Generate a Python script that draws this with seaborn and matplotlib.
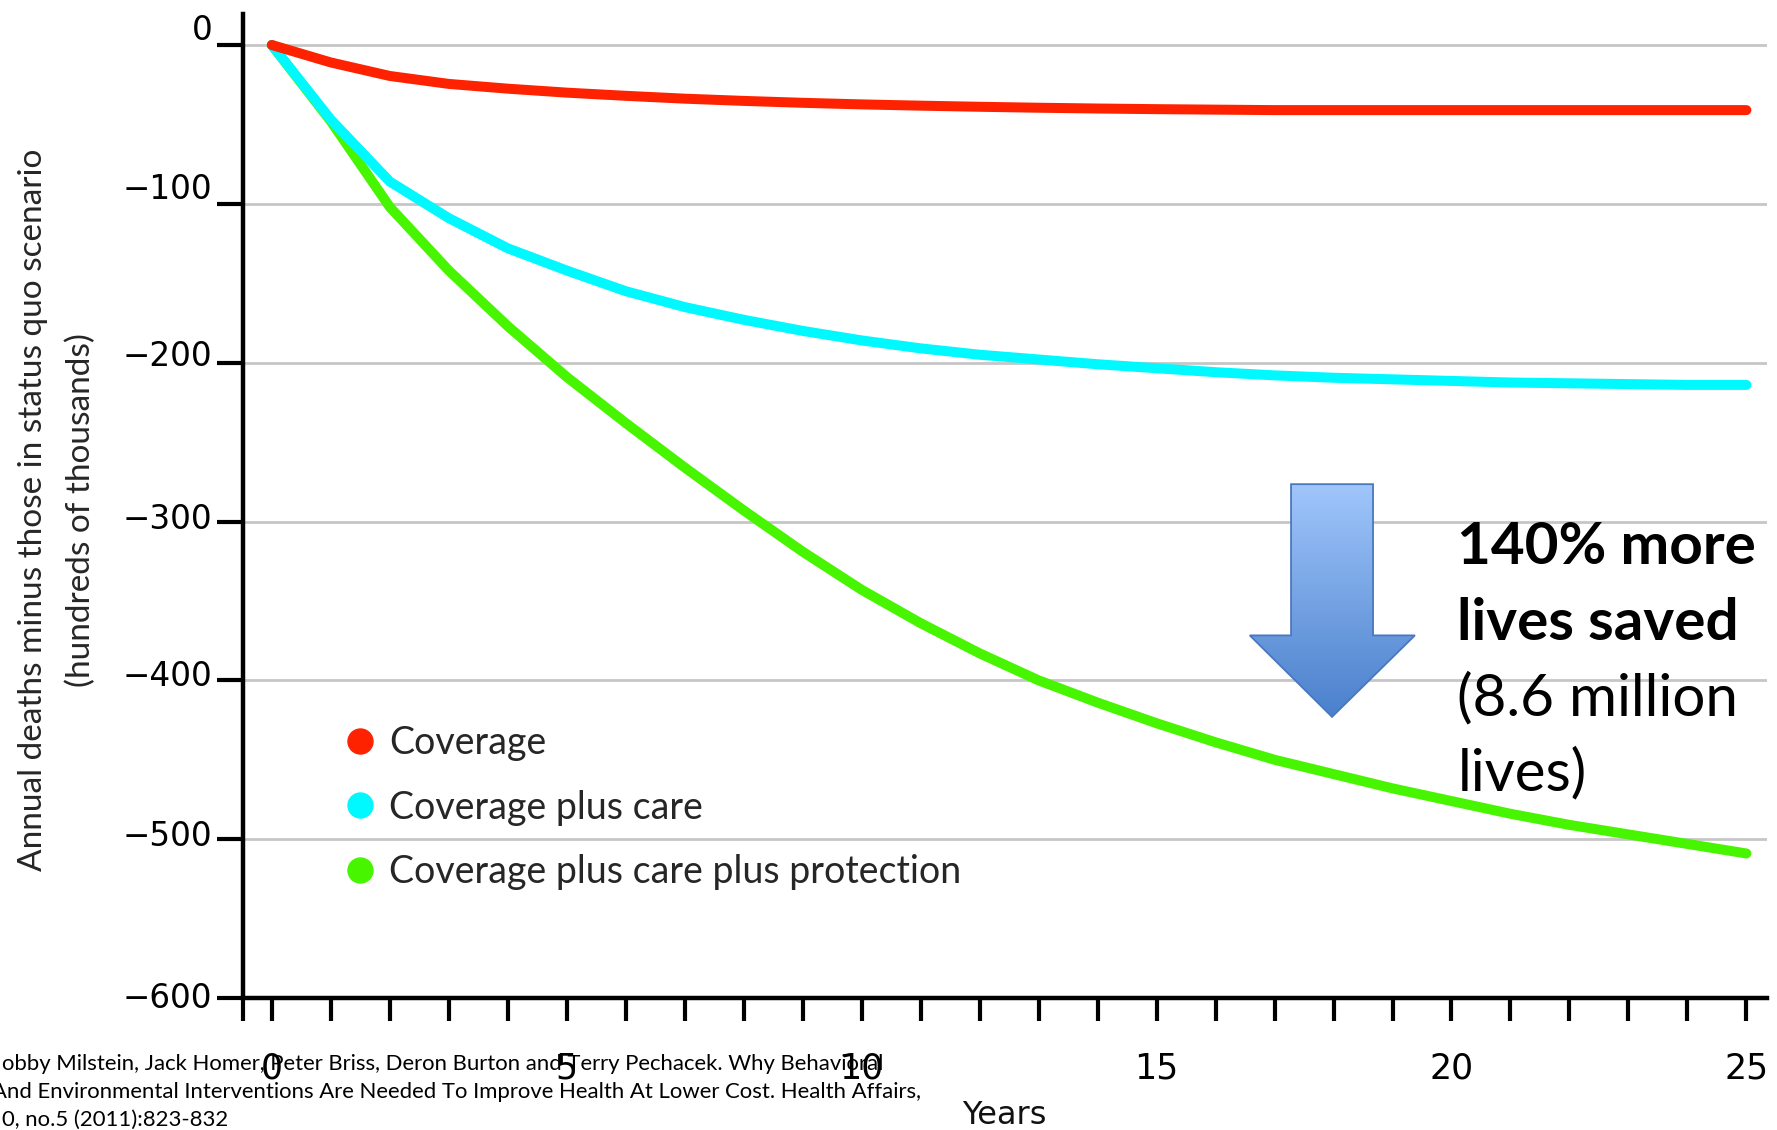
import numpy as np
import pandas as pd
import matplotlib
matplotlib.use("Agg")
import matplotlib.pyplot as plt
import matplotlib.transforms as mtransforms
from matplotlib.colors import LinearSegmentedColormap
from matplotlib.lines import Line2D
from matplotlib.patches import Polygon
import seaborn as sns

# ── data (annual deaths vs status quo, hundreds of thousands)
years = list(range(0, 26))
coverage = [0, -11, -19.5, -24.5, -27.5, -30, -32, -33.8, -35.2, -36.4, -37.4,
            -38.2, -38.9, -39.5, -40, -40.4, -40.7, -41, -41, -41, -41, -41,
            -41, -41, -41, -41]
coverage_care = [0, -47, -86, -109, -128, -142, -155, -165, -173, -180, -186,
                 -191, -195, -198, -201, -203.5, -206, -208, -209.5, -210.5,
                 -211.5, -212.5, -213, -213.5, -214, -214]
coverage_care_protect = [0, -48, -102, -142, -177, -209, -238, -266, -293,
                         -319, -343, -364, -383, -400, -414, -427, -439, -450,
                         -459, -468, -476, -484, -491, -497, -503, -509]

series_names = ["Coverage", "Coverage plus care",
                "Coverage plus care plus protection"]
colors = ["#ff2200", "#00f8ff", "#48f500"]

yticks = [0, -100, -200, -300, -400, -500, -600]
ytick_labels = ["0", "\u2212100", "\u2212200", "\u2212300", "\u2212400",
                "\u2212500", "\u2212600"]
# original labels sit a little above their gridlines (pixels, per tick)
ylabel_lift = [18, 18, 10, 6, 7, 6, 3]

note_lines = ["140% more", "lives saved", "(8.6 million", "lives)"]
note_weights = ["bold", "bold", "normal", "normal"]

citation = [
    "obby Milstein, Jack Homer, Peter Briss, Deron Burton and Terry Pechacek. Why Behavioral",
    "And Environmental Interventions Are Needed To Improve Health At Lower Cost. Health Affairs,",
    "0, no.5 (2011):823-832",
]

df = pd.DataFrame({
    "Years": years * 3,
    "value": coverage + coverage_care + coverage_care_protect,
    "scenario": np.repeat(series_names, len(years)),
})

# ── style
sns.set_style("white")
plt.rcParams["font.family"] = ["DejaVu Sans"]
SLIM = ["Lato", "DejaVu Sans"]

fig = plt.figure(figsize=(17.77, 11.30), dpi=100)
ax = fig.add_axes([0.1367, 0.1168, 0.8577, 0.8708])

# green first, red last (red sits on top in the original)
for name, col in reversed(list(zip(series_names, colors))):
    sns.lineplot(data=df[df.scenario == name], x="Years", y="value",
                 color=col, lw=7.2, errorbar=None, legend=False, ax=ax,
                 solid_capstyle="round", solid_joinstyle="round", zorder=3)

# ── gradient block arrow
shaft_l, shaft_r = 17.28, 18.67
head_l, head_r = 16.58, 19.38
tip_x, tip_y = 17.975, -423
top_y, base_y = -276.5, -371.7
verts = [(shaft_l, top_y), (shaft_r, top_y), (shaft_r, base_y), (head_r, base_y),
         (tip_x, tip_y), (head_l, base_y), (shaft_l, base_y)]
arrow = Polygon(verts, closed=True, facecolor="none", edgecolor="#4a78bf",
                lw=1.3, zorder=5)
ax.add_patch(arrow)
grad = np.linspace(0, 1, 256).reshape(-1, 1)
cmap = LinearSegmentedColormap.from_list("arrow", ["#a0c6fb", "#4a80cc"])
im = ax.imshow(grad, cmap=cmap, extent=[head_l, head_r, tip_y, top_y],
               origin="upper", aspect="auto", zorder=4)
im.set_clip_path(arrow)

# ── axes
ax.set_xlim(-0.49, 25.35)
ax.set_ylim(-600, 19.5)
ax.set_xlabel("")
ax.set_ylabel("")
for s in ["top", "right"]:
    ax.spines[s].set_visible(False)
for s in ["left", "bottom"]:
    ax.spines[s].set_linewidth(3.2)
    ax.spines[s].set_color("black")

xt = [-0.49] + years
ax.set_xticks(xt)
ax.set_xticklabels([""] + [str(y) if y % 5 == 0 else "" for y in years])
ax.set_yticks(yticks)
ax.set_yticklabels(ytick_labels)
ax.yaxis.grid(True, color="#c6c6c6", lw=2)
ax.xaxis.grid(False)
ax.set_axisbelow(True)

ax.tick_params(axis="x", direction="out", length=16.5, width=3, pad=22,
               labelsize=25, colors="black", bottom=True)
ax.tick_params(axis="y", direction="out", length=19, width=3, pad=3,
               labelsize=23.5, colors="black", left=True)

for lab in ax.get_yticklabels():
    v = int(round(lab.get_position()[1]))
    if v in yticks:
        dy = ylabel_lift[yticks.index(v)] / fig.dpi
        lab.set_transform(lab.get_transform() +
                          mtransforms.ScaledTranslation(0, dy, fig.dpi_scale_trans))

# ── legend
handles = [Line2D([], [], ls="none", marker="o", markersize=18,
                  markerfacecolor=c, markeredgecolor=c) for c in colors]
ax.legend(handles, series_names, loc="upper left",
          bbox_to_anchor=(0.0687, 0.2774), frameon=False,
          prop={"family": SLIM, "size": 27}, handlelength=0.68,
          handletextpad=0.42, labelspacing=0.76, borderpad=0, borderaxespad=0)

# ── annotation next to the arrow
for txt, w, yv in zip(note_lines, note_weights, [-327, -374.5, -422, -469.5]):
    ax.text(20.1, yv, txt, fontsize=42, fontweight=w, family=SLIM,
            ha="left", va="baseline", color="black", zorder=6)

# ── axis titles
fig.text(33 / 1777, 0.549, "Annual deaths minus those in status quo scenario",
         rotation=90, ha="center", va="center", fontsize=24, family=SLIM)
fig.text(81 / 1777, 0.549, "(hundreds of thousands)",
         rotation=90, ha="center", va="center", fontsize=24, family=SLIM)
fig.text(1004 / 1777, 6 / 1130, "Years", ha="center", va="baseline",
         fontsize=23, color="#111111")

# ── source note (cut off at the left edge, as in the original slide)
for i, line in enumerate(citation):
    x0 = -8 / 1777 if line.startswith("And") else 2 / 1777
    fig.text(x0, (1130 - [1070, 1098, 1126][i]) / 1130, line, ha="left",
             va="baseline", fontsize=15.9, family=SLIM, color="black")

fig.savefig("out.png", dpi=100, facecolor="white")
